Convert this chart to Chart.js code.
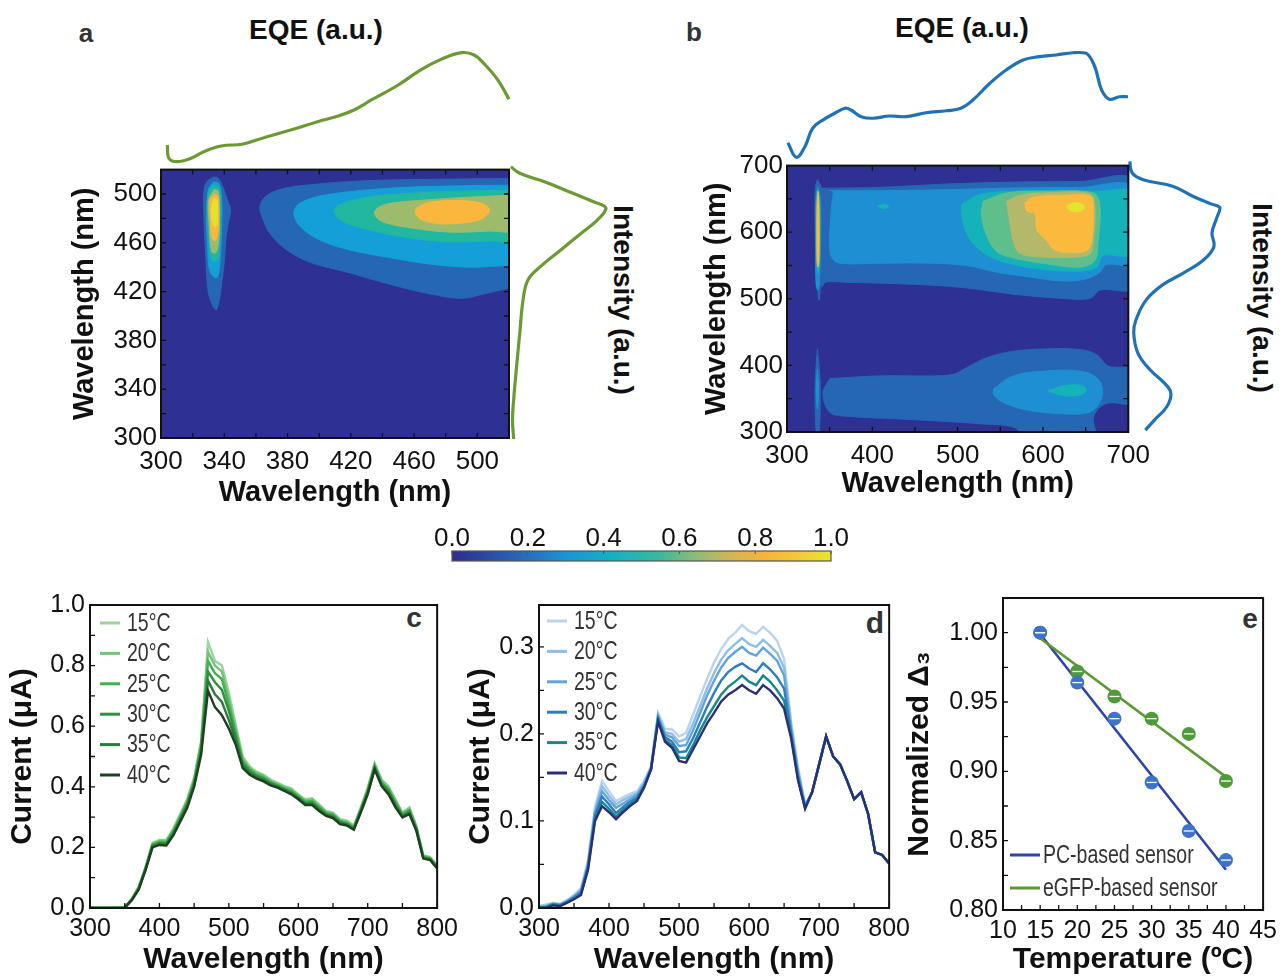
<!DOCTYPE html>
<html>
<head>
<meta charset="utf-8">
<title>Photocurrent maps and temperature response</title>
<script src="https://cdn.jsdelivr.net/npm/chart.js@4.4.1/dist/chart.umd.min.js"></script>
<style>
  body { margin: 0; background: #fff; width: 1285px; height: 978px; position: relative; overflow: hidden;
         font-family: "Liberation Sans", Arial, sans-serif; }
  canvas { position: absolute; }
  .txt { position: absolute; transform: translate(-50%, -50%); white-space: nowrap; color: #111; font-weight: bold; }
  .rot { transform: translate(-50%, -50%) rotate(90deg); }
</style>
</head>
<body>
<div class="txt" style="left:86px;top:33px;font-size:26px;color:#333">a</div>
<div class="txt" style="left:694px;top:32px;font-size:26px;color:#333">b</div>
<div class="txt" style="left:316px;top:30px;font-size:28px">EQE (a.u.)</div>
<div class="txt" style="left:962px;top:28px;font-size:28px">EQE (a.u.)</div>
<div class="txt rot" style="left:623px;top:300px;font-size:28px">Intensity (a.u.)</div>
<div class="txt rot" style="left:1262px;top:298px;font-size:28px">Intensity (a.u.)</div>
<div class="txt" style="left:414px;top:618px;font-size:28px;color:#333">c</div>
<div class="txt" style="left:875px;top:623px;font-size:30px;color:#333">d</div>
<div class="txt" style="left:1250px;top:619px;font-size:28px;color:#333">e</div>

<canvas id="aEqe" width="380" height="130" style="left:150px;top:40px"></canvas>
<canvas id="aInt" width="120" height="295" style="left:500px;top:155px"></canvas>
<canvas id="aMain" width="462" height="360" style="left:68px;top:150px"></canvas>
<canvas id="bEqe" width="370" height="130" style="left:775px;top:40px"></canvas>
<canvas id="bInt" width="115" height="295" style="left:1120px;top:150px"></canvas>
<canvas id="bMain" width="458" height="355" style="left:700px;top:146px"></canvas>
<canvas id="cbar" width="450" height="50" style="left:420px;top:515px"></canvas>
<canvas id="cChart" width="459" height="393" style="left:5px;top:585px"></canvas>
<canvas id="dChart" width="453" height="393" style="left:463px;top:585px"></canvas>
<canvas id="eChart" width="381" height="400" style="left:902px;top:578px"></canvas>

<script>
"use strict";
// ---------- data ----------
// marginal EQE curves (top) and emission intensity (right)
const aEqeNm = [304, 305, 310, 319, 327, 338, 352, 365, 382, 399, 412, 422, 433, 450, 464, 477, 490, 498, 504, 513, 520];
const aEqeVal = [0.155, 0.034, 0.003, 0.034, 0.094, 0.145, 0.164, 0.221, 0.291, 0.366, 0.418, 0.473, 0.564, 0.70, 0.836, 0.933, 0.994, 0.973, 0.897, 0.745, 0.57];
const aIntNm = [519.4, 514.1, 507.3, 497.9, 491.1, 485.8, 476.4, 465.6, 452.1, 438.6, 427.9, 411.7, 384.8, 357.8, 330.9, 314.7, 299.2];
const aIntVal = [0.019, 0.111, 0.365, 0.66, 0.871, 1.0, 0.913, 0.745, 0.534, 0.323, 0.196, 0.145, 0.111, 0.078, 0.048, 0.036, 0.048];

const bEqeNm = [301, 311, 321, 330, 342, 356, 368, 375, 387, 401, 420, 440, 463, 487, 504, 518, 538, 557, 577, 596, 616, 635, 651, 661, 669, 678, 690, 700];
const bEqeVal = [0.144, 0.007, 0.107, 0.28, 0.358, 0.422, 0.469, 0.453, 0.39, 0.375, 0.396, 0.39, 0.427, 0.446, 0.469, 0.547, 0.705, 0.83, 0.925, 0.956, 0.972, 0.993, 0.988, 0.861, 0.642, 0.554, 0.578, 0.578];
const bIntNm = [700.9, 683.7, 673.7, 663.8, 649, 638, 631.8, 614.4, 594.7, 574.8, 555.1, 535.3, 517.9, 495.7, 466, 446.3, 416.6, 391.8, 372.1, 357.3, 337.4, 317.7, 302.8];
const bIntVal = [0.008, 0.035, 0.157, 0.487, 0.707, 0.9, 1.0, 0.957, 0.912, 0.934, 0.822, 0.596, 0.369, 0.189, 0.076, 0.052, 0.099, 0.234, 0.392, 0.46, 0.415, 0.279, 0.18];

// contour regions, [excitation nm, emission nm] outlines, panel a
const aPeak1 = [[333, 514], [336, 513], [339, 506], [342, 495], [344, 487], [342.5, 476], [341, 463], [340, 444], [338.5, 428], [337, 414], [334.7, 405], [330.5, 416], [329, 431], [328.4, 447], [327.4, 471], [327, 498], [328.4, 509]];
const aPeak2 = [[333.3, 510], [336.8, 508], [338.5, 492], [338.3, 471], [337.5, 449], [335.8, 432], [333.3, 432], [330.5, 439], [329.5, 457], [328.8, 484], [329.9, 503]];
const aPeak3 = [[333.3, 507], [336.6, 504.6], [337.5, 484], [337, 460], [335.4, 445.4], [332, 446], [330.3, 465.6], [329.5, 492.5], [330.7, 503.3]];
const aPeak4 = [[333.7, 503.8], [336.2, 502], [337, 484], [336.4, 461.5], [334.7, 452], [332, 452.7], [330.7, 471], [330.1, 495]];
const aPeak5 = [[333.7, 500], [335.8, 498.5], [336.4, 482], [335.8, 467], [334.1, 461.5], [332, 465], [331.2, 479], [331, 495]];
const aPeak6 = [[333.7, 496.6], [335.4, 494.7], [335.8, 484.4], [335.4, 475], [334.1, 473], [332.4, 477], [332, 489.8]];
const aBand1 = [[525, 512.7], [519, 512.7], [482, 512.2], [430, 510.9], [392, 507.3], [374, 503.3], [365, 496.6], [362.5, 488.5], [364.6, 479], [368.5, 468.3], [378.8, 454.8], [394.3, 444], [417.4, 436], [443.3, 426.5], [469, 418.4], [489.6, 414.4], [502.5, 417.6], [519, 422.5], [525, 424]];
const aBand2 = [[525, 507.3], [482, 506.5], [443, 504.6], [404.6, 499.3], [387.8, 492.5], [384, 484.4], [387.8, 473.7], [399.4, 462.9], [417.4, 454.8], [443.3, 448.1], [469, 442.7], [494.8, 440], [519, 441.4], [525, 441.5]];
const aBand3 = [[525, 503.3], [482, 502], [443.3, 499.3], [422.6, 495.2], [411, 489.8], [409.7, 484.4], [414.9, 477.7], [430.3, 471], [456.1, 464.2], [481.9, 460.8], [507.7, 461.6], [525, 462.4]];
const aBand4 = [[525, 499.3], [494.8, 497.4], [469, 495.2], [445.7, 492.5], [436.8, 488.5], [435, 483.1], [440.7, 476.9], [458.6, 472.1], [481.9, 468.8], [507.7, 469.6], [525, 471]];
const aBand5 = [[461.3, 488.5], [469, 493.1], [487.1, 494.7], [502.5, 492.5], [507.7, 487.1], [503.9, 480.4], [492.3, 476.4], [474.2, 475.8], [463.9, 479.6], [460.8, 484.4]];

// panel b
const bUp1 = [[340, 666], [408.7, 667.3], [487, 672.3], [565, 675.2], [643, 676.2], [706, 677.2], [706, 518], [666.7, 513], [655, 500.5], [623.7, 500.5], [565, 507], [506.4, 516.8], [447.8, 521.8], [369.6, 524.8], [346, 525.2], [340, 518]];
const bUp2 = [[350, 662.4], [408.7, 662.4], [487, 663.9], [565, 666.3], [643, 667.3], [706, 667.3], [706, 553.5], [674.5, 551.5], [666.7, 540], [651, 530], [623.7, 526.7], [584.6, 532.7], [545.5, 540], [510.3, 550], [467.3, 553.5], [408.7, 553.5], [361.8, 553.5], [352, 562.4], [350, 587], [352, 636.6], [354, 661.4]];
const bUp4 = [[504.5, 641.6], [526, 656.4], [565, 661.4], [604, 662.4], [662.8, 661.4], [706, 658.9], [706, 567.3], [670.6, 564.9], [662.8, 547.5], [643.2, 541.6], [604, 543.6], [565, 551.5], [533.8, 566.3], [514.2, 589.6], [505.6, 619.3]];
const bUp5 = [[529.9, 646.5], [557.2, 658.9], [604, 661.4], [658.9, 658.9], [666.7, 641.6], [664.7, 587], [660.8, 557.4], [643.2, 547.5], [604, 552.5], [565, 561.4], [545.5, 571.3], [533.8, 596], [527.9, 626.7]];
const bUp6 = [[557.2, 646.5], [572.9, 655.4], [604, 658.9], [654.9, 657.4], [660.8, 636.6], [658.9, 587], [655, 567.3], [635.4, 562.4], [604, 562.4], [572.9, 568.3], [565, 587], [561, 616.8]];
const bUp7 = [[578.7, 644], [588.5, 652.5], [623.7, 655.4], [655, 654], [658.9, 636.6], [656.9, 587], [651, 572.3], [623.7, 569.8], [612, 574.8], [606, 584.7], [600.2, 592], [592.4, 604.5], [590.5, 626.7], [580.7, 632.7]];
const bUp8 = [[627.6, 639], [635.4, 644], [645.2, 642.6], [649, 636.6], [641.3, 630.7], [631.5, 632.7]];
const bSpot = [[405.6, 639], [412.6, 641.6], [419.6, 638.6], [412.6, 635.6]];
const bStreak1 = [[335.6, 678.7], [340.3, 666.3], [341, 612], [340.3, 547.5], [337.5, 498], [334.4, 547.5], [332.8, 612], [333.2, 666.3]];
const bStreak2 = [[336, 668.8], [339.1, 651.5], [339.5, 587], [337.9, 522.8], [336, 513], [334, 522.8], [333.6, 587], [334, 651.5]];
const bStreak4 = [[336, 664], [338.3, 646.5], [338.3, 562.4], [336.4, 537.6], [334.4, 562.4], [334.4, 646.5]];
const bStreak7 = [[336.4, 661.4], [337.5, 641.6], [337.5, 557.4], [336.4, 547.5], [335.2, 557.4], [335.2, 641.6]];
const bLow1 = [[350, 380.2], [408.7, 384.2], [467.3, 384.2], [494.7, 386.6], [510.3, 396.5], [533.8, 411.4], [565, 421.3], [604, 424.8], [643.2, 423.8], [662.8, 416.3], [676.5, 399], [706, 393], [706, 344.6], [676.5, 343.6], [664.7, 334.7], [658.9, 319.8], [660.8, 290], [584.6, 290], [565, 307.4], [525.9, 312.4], [486.9, 315.8], [428.2, 319.8], [369.6, 323.8], [350, 329.7], [342, 358]];
const bLow2 = [[541.6, 364.4], [565, 384.2], [604, 391.6], [643.2, 391.6], [662.8, 381.7], [669.8, 364.4], [666.7, 344.6], [655, 329.7], [623.7, 327.2], [584.6, 332.2], [557.2, 342.1], [543.5, 353.5]];
const bLow4 = [[606, 362], [623.7, 369.3], [643.2, 370.3], [651, 364.4], [645.2, 356], [623.7, 354.5]];
const bLowStreak1 = [[335.6, 423.8], [338.3, 389], [339.1, 354.5], [337.5, 297], [334.4, 297], [332.8, 354.5], [333.6, 389]];
const bLowStreak2 = [[335.6, 394], [337.1, 364.4], [335.6, 334.7], [334, 364.4]];

// contour level colours (index = level)
const levelColors = ['#2e3192', '#2667b3', '#1e8fd2', '#149fd9', '#22b79f', '#5fbf8c', '#9dbb6c', '#fbb63d', '#e6e22c'];
const levelColorsB = ['#2e3192', '#2667b3', '#1e8fd2', '#149fd9', '#15b2b9', '#5fbf8c', '#b3b86b', '#fbb93e', '#e3e42c'];
const aRegions = [[aPeak1, 1], [aPeak2, 3], [aPeak3, 4], [aPeak4, 6], [aPeak5, 7], [aPeak6, 8],
                  [aBand1, 1], [aBand2, 3], [aBand3, 4], [aBand4, 6], [aBand5, 7]];
const bRegions = [[bUp1, 1], [bUp2, 2], [bUp4, 4], [bUp5, 5], [bUp6, 6], [bUp7, 7], [bUp8, 8], [bSpot, 4],
                  [bStreak1, 1], [bStreak2, 2], [bStreak4, 4], [bStreak7, 7],
                  [bLow1, 1], [bLow2, 2], [bLow4, 4], [bLowStreak1, 1], [bLowStreak2, 2]];
const rampStops = [[0, '#2b2d8d'], [0.15, '#2a5db0'], [0.3, '#1d93d4'], [0.42, '#14b0c6'], [0.55, '#3cb99a'],
                   [0.65, '#93bd72'], [0.75, '#d9b552'], [0.82, '#f9b13d'], [0.92, '#f5c93a'], [1, '#e6e62e']];

// photocurrent spectra
const sweepNm = [300, 310, 320, 330, 340, 350, 360, 370, 380, 390, 400, 410, 420, 430, 440, 450, 460, 470, 480, 490, 500,
  510, 520, 530, 540, 550, 560, 570, 580, 590, 600, 610, 620, 630, 640, 650, 660, 670, 680, 690, 700,
  710, 720, 730, 740, 750, 760, 770, 780, 790, 800];
const tempLabels = ['15°C', '20°C', '25°C', '30°C', '35°C', '40°C'];
const c15 = [0, 0, 0, 0, 0, 0.002, 0.03, 0.07, 0.135, 0.215, 0.225, 0.225, 0.262, 0.31, 0.36, 0.43, 0.55, 0.877, 0.815, 0.80, 0.71, 0.603, 0.50, 0.467, 0.45, 0.44, 0.424, 0.413, 0.402, 0.395, 0.375, 0.359, 0.362, 0.342, 0.32, 0.315, 0.293, 0.288, 0.272, 0.332, 0.397, 0.478, 0.424, 0.402, 0.359, 0.315, 0.332, 0.272, 0.174, 0.168, 0.141];
const c20 = [0, 0, 0, 0, 0, 0.002, 0.029, 0.068, 0.133, 0.212, 0.222, 0.221, 0.258, 0.305, 0.355, 0.425, 0.545, 0.845, 0.80, 0.78, 0.69, 0.59, 0.492, 0.462, 0.446, 0.436, 0.42, 0.41, 0.399, 0.391, 0.372, 0.355, 0.358, 0.338, 0.317, 0.312, 0.29, 0.285, 0.269, 0.329, 0.393, 0.474, 0.42, 0.397, 0.354, 0.312, 0.328, 0.268, 0.172, 0.166, 0.139];
const c25 = [0, 0, 0, 0, 0, 0.002, 0.028, 0.066, 0.131, 0.209, 0.218, 0.217, 0.254, 0.3, 0.349, 0.419, 0.535, 0.815, 0.775, 0.755, 0.67, 0.578, 0.485, 0.457, 0.441, 0.431, 0.416, 0.406, 0.395, 0.386, 0.368, 0.351, 0.353, 0.334, 0.313, 0.308, 0.287, 0.281, 0.266, 0.325, 0.388, 0.469, 0.415, 0.391, 0.348, 0.309, 0.323, 0.265, 0.17, 0.164, 0.137];
const c30 = [0, 0, 0, 0, 0, 0.001, 0.027, 0.064, 0.129, 0.206, 0.215, 0.213, 0.249, 0.295, 0.343, 0.413, 0.525, 0.78, 0.745, 0.72, 0.65, 0.565, 0.477, 0.451, 0.436, 0.427, 0.412, 0.403, 0.392, 0.382, 0.365, 0.347, 0.348, 0.329, 0.31, 0.304, 0.284, 0.278, 0.263, 0.321, 0.384, 0.465, 0.41, 0.386, 0.343, 0.305, 0.318, 0.261, 0.168, 0.162, 0.135];
const c35 = [0, 0, 0, 0, 0, 0.001, 0.026, 0.062, 0.127, 0.203, 0.211, 0.209, 0.244, 0.29, 0.337, 0.406, 0.515, 0.75, 0.705, 0.68, 0.62, 0.552, 0.47, 0.446, 0.432, 0.422, 0.408, 0.4, 0.389, 0.378, 0.362, 0.343, 0.344, 0.324, 0.307, 0.3, 0.28, 0.275, 0.26, 0.318, 0.379, 0.461, 0.406, 0.381, 0.337, 0.302, 0.314, 0.258, 0.165, 0.16, 0.132];
const c40 = [0, 0, 0, 0, 0, 0.001, 0.025, 0.06, 0.125, 0.20, 0.208, 0.206, 0.24, 0.285, 0.33, 0.40, 0.505, 0.717, 0.663, 0.636, 0.592, 0.538, 0.462, 0.44, 0.427, 0.418, 0.405, 0.397, 0.386, 0.375, 0.359, 0.34, 0.34, 0.32, 0.304, 0.297, 0.277, 0.272, 0.258, 0.315, 0.375, 0.457, 0.402, 0.375, 0.332, 0.299, 0.31, 0.255, 0.163, 0.158, 0.13];

const d15 = [0.002, 0.004, 0.006, 0.005, 0.009, 0.015, 0.023, 0.055, 0.116, 0.146, 0.134, 0.123, 0.127, 0.131, 0.134, 0.146, 0.163, 0.224, 0.206, 0.205, 0.197, 0.201, 0.222, 0.243, 0.263, 0.282, 0.297, 0.309, 0.316, 0.325, 0.318, 0.315, 0.323, 0.316, 0.307, 0.286, 0.214, 0.161, 0.119, 0.133, 0.165, 0.197, 0.174, 0.165, 0.146, 0.125, 0.133, 0.108, 0.064, 0.061, 0.051];
const d20 = [0.002, 0.003, 0.005, 0.004, 0.008, 0.014, 0.021, 0.052, 0.113, 0.14, 0.129, 0.119, 0.124, 0.128, 0.132, 0.144, 0.162, 0.222, 0.202, 0.2, 0.191, 0.194, 0.212, 0.232, 0.252, 0.27, 0.285, 0.296, 0.303, 0.31, 0.303, 0.3, 0.308, 0.301, 0.293, 0.276, 0.21, 0.158, 0.118, 0.133, 0.165, 0.197, 0.174, 0.165, 0.146, 0.125, 0.133, 0.108, 0.064, 0.061, 0.051];
const d25 = [0.001, 0.002, 0.005, 0.004, 0.008, 0.013, 0.02, 0.05, 0.11, 0.134, 0.124, 0.115, 0.12, 0.125, 0.13, 0.142, 0.161, 0.22, 0.199, 0.196, 0.186, 0.187, 0.204, 0.224, 0.244, 0.261, 0.276, 0.287, 0.294, 0.30, 0.293, 0.29, 0.299, 0.292, 0.284, 0.267, 0.206, 0.155, 0.117, 0.133, 0.165, 0.197, 0.174, 0.165, 0.146, 0.125, 0.133, 0.108, 0.064, 0.061, 0.051];
const d30 = [0.001, 0.001, 0.004, 0.003, 0.007, 0.012, 0.018, 0.048, 0.106, 0.128, 0.119, 0.109, 0.116, 0.122, 0.127, 0.140, 0.160, 0.218, 0.196, 0.191, 0.179, 0.18, 0.195, 0.213, 0.231, 0.247, 0.261, 0.271, 0.277, 0.281, 0.275, 0.271, 0.281, 0.274, 0.265, 0.252, 0.201, 0.151, 0.116, 0.133, 0.165, 0.197, 0.174, 0.165, 0.146, 0.125, 0.133, 0.108, 0.064, 0.061, 0.051];
const d35 = [0, 0.001, 0.004, 0.003, 0.006, 0.011, 0.017, 0.046, 0.103, 0.122, 0.114, 0.105, 0.113, 0.119, 0.125, 0.139, 0.159, 0.216, 0.193, 0.187, 0.173, 0.172, 0.187, 0.204, 0.219, 0.232, 0.245, 0.254, 0.26, 0.267, 0.26, 0.256, 0.267, 0.26, 0.25, 0.238, 0.198, 0.148, 0.115, 0.133, 0.165, 0.197, 0.174, 0.165, 0.146, 0.125, 0.133, 0.108, 0.064, 0.061, 0.051];
const d40 = [0, 0, 0.003, 0.002, 0.006, 0.01, 0.015, 0.044, 0.1, 0.117, 0.11, 0.102, 0.11, 0.117, 0.123, 0.138, 0.159, 0.214, 0.191, 0.184, 0.169, 0.167, 0.182, 0.197, 0.212, 0.224, 0.237, 0.245, 0.25, 0.256, 0.25, 0.246, 0.256, 0.25, 0.241, 0.229, 0.195, 0.146, 0.114, 0.133, 0.165, 0.197, 0.174, 0.165, 0.146, 0.125, 0.133, 0.108, 0.064, 0.061, 0.051];
const cColors = ['#9ad49b', '#72c477', '#45b04f', '#2e923e', '#2c7a3a', '#1f3f23'];
const dColors = ['#b9d5ee', '#8ebee6', '#5fa5dc', '#2f7cc0', '#15898a', '#2a2e78'];

// normalized delta vs temperature
const eTemp = [15, 20, 25, 30, 35, 40];
const ePC = [1.000, 0.964, 0.938, 0.892, 0.857, 0.836];
const eGFP = [1.000, 0.972, 0.954, 0.938, 0.927, 0.893];
const eFitT = [15, 40];
const ePCFit = [0.999, 0.829];
const eGFPFit = [0.996, 0.896];

// ---------- plugins ----------
const plotBg = {
  id: 'plotBg',
  beforeDatasetsDraw(chart, args, o) {
    if (!o.color) return;
    const a = chart.chartArea;
    chart.ctx.save();
    chart.ctx.fillStyle = o.color;
    chart.ctx.fillRect(a.left, a.top, a.right - a.left, a.bottom - a.top);
    chart.ctx.restore();
  }
};

const colorRamp = {
  id: 'colorRamp',
  beforeDatasetsDraw(chart, args, o) {
    if (!o.stops) return;
    const { ctx, chartArea: a } = chart;
    const g = ctx.createLinearGradient(a.left, 0, a.right, 0);
    o.stops.forEach(s => g.addColorStop(s[0], s[1]));
    ctx.save();
    ctx.fillStyle = g;
    ctx.fillRect(a.left, a.top, a.right - a.left, a.bottom - a.top);
    ctx.restore();
  }
};

const frameTicks = {
  id: 'frameTicks',
  afterDatasetsDraw(chart, args, o) {
    if (!o.len) return;
    const { ctx, chartArea: a } = chart;
    const xs = chart.scales.x, ys = chart.scales.y;
    ctx.save();
    ctx.strokeStyle = o.color || '#111';
    ctx.lineWidth = o.tickWidth || 1.5;
    ctx.beginPath();
    xs.ticks.forEach(t => {
      const p = xs.getPixelForValue(t.value);
      if (o.bottom !== false) { ctx.moveTo(p, a.bottom); ctx.lineTo(p, a.bottom - o.len); }
      if (o.mirror || o.top) { ctx.moveTo(p, a.top); ctx.lineTo(p, a.top + o.len); }
    });
    if (o.yTicks !== false) {
      ys.ticks.forEach(t => {
        const p = ys.getPixelForValue(t.value);
        ctx.moveTo(a.left, p); ctx.lineTo(a.left + o.len, p);
        if (o.mirror) { ctx.moveTo(a.right, p); ctx.lineTo(a.right - o.len, p); }
      });
    }
    ctx.stroke();
    ctx.lineWidth = o.width || 2;
    ctx.strokeRect(a.left, a.top, a.right - a.left, a.bottom - a.top);
    ctx.restore();
  }
};

const markBar = {
  id: 'markBar',
  afterDatasetsDraw(chart, args, o) {
    if (!o.sets) return;
    const ctx = chart.ctx;
    ctx.save();
    ctx.strokeStyle = '#fff';
    ctx.lineWidth = 1.3;
    o.sets.forEach(i => {
      chart.getDatasetMeta(i).data.forEach(pt => {
        ctx.beginPath();
        ctx.moveTo(pt.x - 5, pt.y); ctx.lineTo(pt.x + 5, pt.y);
        ctx.stroke();
      });
    });
    ctx.restore();
  }
};

// legend drawn inside the plot, text squeezed like the condensed face of the original
const insideLegend = {
  id: 'insideLegend',
  afterDatasetsDraw(chart, args, o) {
    if (!o.items) return;
    const { ctx, chartArea: a } = chart;
    ctx.save();
    ctx.font = `${o.size}px "Liberation Sans", Arial, sans-serif`;
    ctx.textBaseline = 'middle';
    o.items.forEach((idx, i) => {
      const ds = chart.data.datasets[idx];
      const x = a.left + o.x, y = a.top + o.y + i * o.row;
      ctx.strokeStyle = ds.borderColor;
      ctx.lineWidth = o.lw;
      ctx.beginPath(); ctx.moveTo(x, y); ctx.lineTo(x + o.line, y); ctx.stroke();
      ctx.save();
      ctx.translate(x + o.line + o.gap, y + 1);
      ctx.scale(o.squeeze, 1);
      ctx.fillStyle = '#333';
      ctx.fillText(ds.label, 0, 0);
      ctx.restore();
    });
    ctx.restore();
  }
};

Chart.register(plotBg, colorRamp, frameTicks, markBar, insideLegend);
Chart.defaults.font.family = '"Liberation Sans", Arial, sans-serif';
Chart.defaults.color = '#111';
Chart.defaults.animation = false;
Chart.defaults.plugins.legend.display = false;
Chart.defaults.plugins.tooltip.enabled = false;

// ---------- helpers ----------
const pairs = (xs, ys) => xs.map((x, i) => ({ x: x, y: ys[i] }));

function axis(o) {
  return {
    type: 'linear', min: o.min, max: o.max, position: o.position,
    display: o.display !== false,
    grid: { display: false, drawTicks: false },
    border: { display: false },
    ticks: {
      stepSize: o.step, autoSkip: false, maxRotation: 0, includeBounds: false,
      padding: o.pad, color: '#111', font: { size: o.size },
      callback: o.label
    },
    title: o.title
      ? { display: true, text: o.title, color: '#111', padding: 0, font: { size: o.titleSize || 29, weight: 'bold' } }
      : { display: false },
    afterFit: s => {
      if (o.fit === undefined) return;
      if (s.isHorizontal()) s.height = o.fit; else s.width = o.fit;
    }
  };
}

function hidden(min, max) {
  return { type: 'linear', display: false, min: min, max: max };
}

function polygon(pts, level, colors) {
  const closed = pts.concat([pts[0]]);
  return {
    data: closed.map(p => ({ x: p[0], y: p[1] })),
    showLine: true, fill: 'shape', tension: 0.35,
    backgroundColor: colors[level], borderColor: colors[level], borderWidth: 1,
    pointRadius: 0, order: 20 - level
  };
}

function curveChart(id, data, color, xr, yr, pad) {
  return new Chart(document.getElementById(id), {
    type: 'scatter',
    data: { datasets: [{ data: data, showLine: true, tension: 0.4, borderColor: color, borderWidth: 3.2, pointRadius: 0, clip: false }] },
    options: { responsive: false, layout: { padding: pad }, scales: { x: hidden(xr[0], xr[1]), y: hidden(yr[0], yr[1]) } }
  });
}

function contourChart(id, regions, colors, lim, step, major, lastLabel, fitY, fitX, pad) {
  const lbl = v => ((v - lim[0]) % major === 0 && v <= lastLabel ? v : '');
  return new Chart(document.getElementById(id), {
    type: 'scatter',
    data: { datasets: regions.map(r => polygon(r[0], r[1], colors)) },
    options: {
      responsive: false,
      layout: { padding: pad },
      scales: {
        x: axis({ min: lim[0], max: lim[1], step: step, position: 'bottom', pad: 8, size: 26, label: lbl, title: 'Wavelength (nm)', fit: fitX }),
        y: axis({ min: lim[0], max: lim[1], step: step, position: 'left', pad: 4, size: 26, label: lbl, title: 'Wavelength (nm)', fit: fitY })
      },
      plugins: {
        plotBg: { color: colors[0] },
        frameTicks: { len: 5, mirror: true, width: 2, tickWidth: 1.3 }
      }
    }
  });
}

// ---------- panels a / b ----------
curveChart('aEqe', pairs(aEqeNm, aEqeVal), '#6c9a32', [300, 520], [0, 1], { left: 11, right: 21, top: 12, bottom: 8 });
curveChart('aInt', pairs(aIntVal, aIntNm), '#6c9a32', [0, 1], [300, 520], { left: 9, right: 14, top: 11, bottom: 12 });
contourChart('aMain', aRegions, levelColors, [300, 520], 20, 40, 500, 93, 72, { top: 16, right: 21, left: 0, bottom: 0 });

curveChart('bEqe', pairs(bEqeNm, bEqeVal), '#1f72b6', [300, 700], [0, 1], { left: 12, right: 17, top: 12, bottom: 12 });
curveChart('bInt', pairs(bIntVal, bIntNm), '#1f72b6', [0, 1], [300, 700], { left: 9, right: 15, top: 12, bottom: 13 });
contourChart('bMain', bRegions, levelColorsB, [300, 700], 50, 100, 700, 87, 69, { top: 16, right: 26, left: 0, bottom: 0 });

// ---------- colour bar ----------
new Chart(document.getElementById('cbar'), {
  type: 'scatter',
  data: { datasets: [] },
  options: {
    responsive: false,
    layout: { padding: { left: 32, right: 39, top: 0, bottom: 4 } },
    scales: {
      x: axis({ min: 0, max: 1, step: 0.2, position: 'top', pad: -3, size: 26, label: v => v.toFixed(1), fit: 36 }),
      y: hidden(0, 1)
    },
    plugins: {
      colorRamp: { stops: rampStops },
      frameTicks: { len: 3, bottom: false, top: true, yTicks: false, width: 1.2, tickWidth: 1, color: '#555' }
    }
  }
});

// ---------- panels c / d ----------
function spectraChart(id, series, colors, ymax, ystep, ymajor, fitY, pad, legendPos) {
  const onMajor = v => Math.abs(v / ymajor - Math.round(v / ymajor)) < 1e-6;
  return new Chart(document.getElementById(id), {
    type: 'scatter',
    data: {
      datasets: series.map((s, i) => ({
        label: tempLabels[i], data: pairs(sweepNm, s), showLine: true, tension: 0,
        borderColor: colors[i], borderWidth: 2.4, pointRadius: 0, order: 5 - i
      }))
    },
    options: {
      responsive: false,
      layout: { padding: pad },
      scales: {
        x: axis({ min: 300, max: 800, step: 50, position: 'bottom', pad: 6, size: 25,
                  label: v => (v % 100 === 0 ? v : ''), title: 'Wavelength (nm)', titleSize: 30, fit: 70 }),
        y: axis({ min: 0, max: ymax, step: ystep, position: 'left', pad: 5, size: 25,
                  label: v => (onMajor(v) ? v.toFixed(1) : ''), title: 'Current (μA)', titleSize: 30, fit: fitY })
      },
      plugins: {
        frameTicks: { len: 5, width: 2, tickWidth: 1.3 },
        insideLegend: { items: [0, 1, 2, 3, 4, 5], x: legendPos[0], y: legendPos[1], row: 30.4, line: 20, gap: 7, lw: 3, size: 25, squeeze: 0.78 }
      }
    }
  });
}

spectraChart('cChart', [c15, c20, c25, c30, c35, c40], cColors, 1.0, 0.1, 0.2, 85,
  { top: 17, right: 25, left: 0, bottom: 0 }, [10, 18]);
spectraChart('dChart', [d15, d20, d25, d30, d35, d40], dColors, 0.348, 0.05, 0.1, 76,
  { top: 17, right: 25, left: 0, bottom: 0 }, [8, 16]);

// ---------- panel e ----------
new Chart(document.getElementById('eChart'), {
  type: 'scatter',
  data: {
    datasets: [
      { label: 'PC-based sensor', data: pairs(eFitT, ePCFit), showLine: true, borderColor: '#2d44a8', borderWidth: 2.6, pointRadius: 0, order: 4 },
      { label: 'eGFP-based sensor', data: pairs(eFitT, eGFPFit), showLine: true, borderColor: '#5b9a32', borderWidth: 2.6, pointRadius: 0, order: 3 },
      { label: 'PC', data: pairs(eTemp, ePC), pointRadius: 7, pointBackgroundColor: '#3d74c9', pointBorderWidth: 0, order: 1 },
      { label: 'eGFP', data: pairs(eTemp, eGFP), pointRadius: 7, pointBackgroundColor: '#4f9a3a', pointBorderWidth: 0, order: 2 }
    ]
  },
  options: {
    responsive: false,
    layout: { padding: { top: 17, right: 16, left: 0, bottom: 0 } },
    scales: {
      x: axis({ min: 10, max: 45, step: 2.5, position: 'bottom', pad: 6, size: 25,
                label: v => (v % 5 === 0 ? v : ''), title: 'Temperature (ºC)', titleSize: 30, fit: 68 }),
      y: axis({ min: 0.8, max: 1.025, step: 0.025, position: 'left', pad: 5, size: 25,
                label: v => (Math.abs(v * 20 - Math.round(v * 20)) < 1e-6 ? v.toFixed(2) : ''),
                title: 'Normalized Δ₃', titleSize: 30, fit: 101 })
    },
    plugins: {
      frameTicks: { len: 5, width: 2, tickWidth: 1.3 },
      markBar: { sets: [2, 3] },
      insideLegend: { items: [0, 1], x: 7, y: 257, row: 33, line: 30, gap: 3, lw: 3, size: 25, squeeze: 0.78 }
    }
  }
});
</script>
</body>
</html>
